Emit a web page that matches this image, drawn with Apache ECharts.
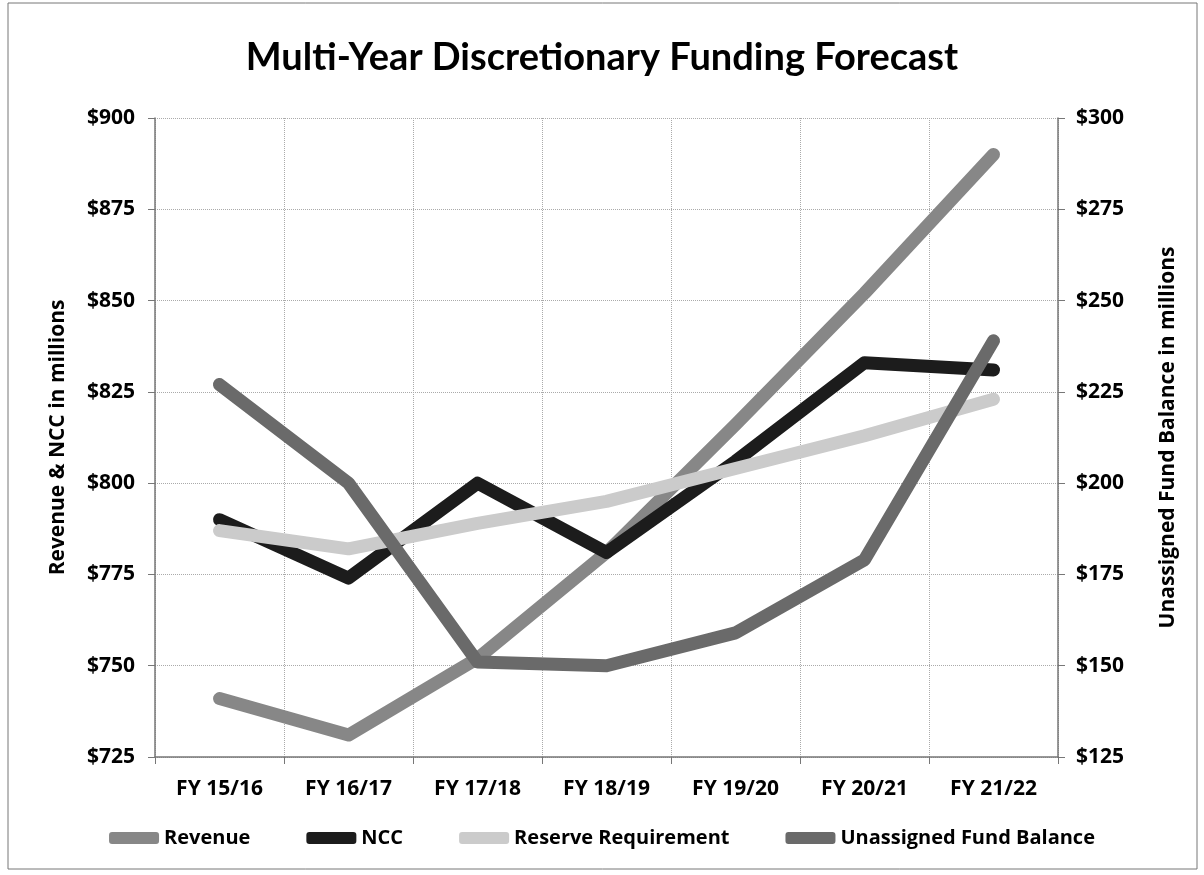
<!DOCTYPE html>
<html>
<head>
<meta charset="utf-8">
<script src="https://cdn.jsdelivr.net/npm/echarts@6/dist/echarts.min.js"></script>
<style>
  html, body { margin: 0; padding: 0; background: #fff; }
  #chart { width: 1204px; height: 875px; }
</style>
</head>
<body>
<div id="chart"></div>
<script>
// 数据
let categories  = ["FY 15/16", "FY 16/17", "FY 17/18", "FY 18/19", "FY 19/20", "FY 20/21", "FY 21/22"];
let revenue     = [741, 731, 752, 781, 816, 852, 890];
let ncc         = [790, 774, 800, 781, 806, 833, 831];
let reserve     = [787, 782, 789, 795, 804, 813, 823];
let unassigned  = [227, 200, 151, 150, 159, 179, 239];    // 右轴

let fontName = "Open Sans";

function lineSeries(name, data, color, yIndex) {
    return {
        name: name,
        type: 'line',
        yAxisIndex: yIndex,
        data: data,
        symbol: 'none',
        lineStyle: { width: 13, color: color, cap: 'round', join: 'round' },
        itemStyle: { color: color }
    };
}

let chart = echarts.init(document.getElementById('chart'));
let option = {
    backgroundColor: '#fff',
    animation: false,
    title: {
        text: 'Multi-Year Discretionary Funding Forecast',
        left: 'center',
        top: 34,
        textStyle: { fontFamily: 'Lato', fontWeight: 'bold', fontSize: 38, color: '#000' }
    },
    graphic: [{
        type: 'rect',
        shape: { x: 8, y: 3, width: 1189, height: 866 },
        style: { fill: 'none', stroke: '#777', lineWidth: 1 }
    }],
    legend: {
        bottom: 22,
        left: 'center',
        itemWidth: 50,
        itemHeight: 12,
        itemGap: 56,
        icon: 'roundRect',
        textStyle: { fontFamily: fontName, fontWeight: 'bold', fontSize: 20, color: '#000' },
        data: ['Revenue', 'NCC', 'Reserve Requirement', 'Unassigned Fund Balance']
    },
    grid: { left: 155, right: 146, top: 118, bottom: 118 },
    xAxis: {
        type: 'category',
        data: categories,
        axisLine: { lineStyle: { color: '#777', width: 1.5 } },
        axisTick: { show: true, length: 7, lineStyle: { color: '#777' } },
        axisLabel: { fontFamily: fontName, fontWeight: 'bold', fontSize: 21, color: '#000', margin: 22 },
        splitLine: { show: true, lineStyle: { color: '#aaa', width: 1, type: 'dotted' } }
    },
    yAxis: [{
        type: 'value',
        min: 725, max: 900, interval: 25,
        name: 'Revenue & NCC in millions',
        nameLocation: 'middle',
        nameGap: 86,
        nameTextStyle: { fontFamily: fontName, fontWeight: 'bold', fontSize: 21, color: '#000' },
        axisLine: { show: true, lineStyle: { color: '#777', width: 1.5 } },
        axisTick: { show: true, length: 7, lineStyle: { color: '#777' } },
        axisLabel: { formatter: '${value}', fontFamily: fontName, fontWeight: 'bold', fontSize: 21, color: '#000', margin: 20 },
        splitLine: { show: true, lineStyle: { color: '#aaa', width: 1, type: 'dotted' } }
    }, {
        type: 'value',
        min: 125, max: 300, interval: 25,
        name: 'Unassigned Fund Balance in millions',
        nameLocation: 'middle',
        nameRotate: 90,
        nameGap: 100,
        nameTextStyle: { fontFamily: fontName, fontWeight: 'bold', fontSize: 21, color: '#000' },
        axisLine: { show: true, lineStyle: { color: '#777', width: 1.5 } },
        axisTick: { show: true, length: 7, lineStyle: { color: '#777' } },
        axisLabel: { formatter: '${value}', fontFamily: fontName, fontWeight: 'bold', fontSize: 21, color: '#000', margin: 18 },
        splitLine: { show: false }
    }],
    series: [
        lineSeries('Revenue', revenue, '#878787', 0),
        lineSeries('NCC', ncc, '#1c1c1c', 0),
        lineSeries('Reserve Requirement', reserve, '#cbcbcb', 0),
        lineSeries('Unassigned Fund Balance', unassigned, '#6a6a6a', 1)
    ]
};
chart.setOption(option);
</script>
</body>
</html>
